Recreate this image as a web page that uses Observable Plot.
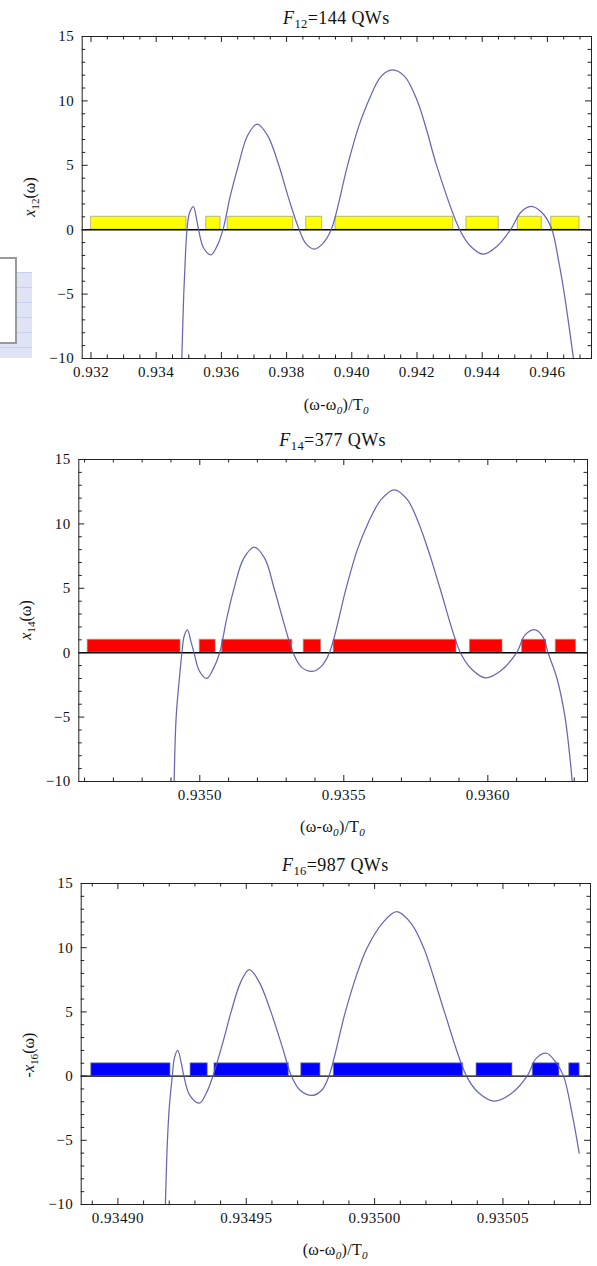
<!DOCTYPE html>
<html>
<head>
<meta charset="utf-8">
<script src="https://cdn.jsdelivr.net/npm/d3@7"></script>
<script src="https://cdn.jsdelivr.net/npm/@observablehq/plot@0.6"></script>
<style>
  html, body { margin: 0; padding: 0; background: #fff; }
  #root { position: relative; width: 597px; height: 1266px; overflow: hidden;
          font-family: "Liberation Serif", "Times New Roman", serif; color: #111; }
  .abs { position: absolute; }
  .title { font-size: 18px; letter-spacing: 0.4px; text-align: center; line-height: 20px; white-space: nowrap; }
  .xlab { font-size: 16px; letter-spacing: 0.3px; text-align: center; line-height: 18px; white-space: nowrap; }
  .ylab { font-size: 16px; text-align: center; line-height: 18px; white-space: nowrap;
          width: 200px; height: 18px; transform: rotate(-90deg); transform-origin: 50% 50%; }
  sub { font-size: 70%; vertical-align: -0.35em; line-height: 0; }
  svg { position: absolute; overflow: visible; }
  svg text { font-family: "Liberation Serif", "Times New Roman", serif !important; letter-spacing: 0.5px; }
</style>
</head>
<body>
<div id="root"></div>
<script>
// ---------------- data ----------------
const yDomain = [-10, 15];
const yMajor = [-10, -5, 0, 5, 10, 15];
const barBase = 0;
const barTop = 1;

const titleIndex = ["12", "14", "16"];
const titleCount = ["144", "377", "987"];
const yLabelSign = ["", "", "-"];
const barColors = ["#ffff00", "#ff0000", "#0000ff"];

// Panel F12 = 144 QWs
const f12XDomain = [0.93173, 0.947353];
const f12XMajor = [0.932, 0.934, 0.936, 0.938, 0.940, 0.942, 0.944, 0.946];
const f12XMinorStep = 0.0005;
const f12BarStart = [0.932000, 0.935534, 0.936196, 0.938601, 0.939500, 0.943518, 0.945092, 0.946117];
const f12BarEnd   = [0.934929, 0.935972, 0.938202, 0.939092, 0.943110, 0.944509, 0.945828, 0.946985];
const f12CurveX = [0.934786, 0.934845, 0.934900, 0.934945, 0.935020, 0.935140, 0.935240, 0.935300,
  0.935450, 0.935680, 0.935880, 0.936049, 0.936280, 0.936521, 0.936800, 0.937100, 0.937420, 0.937761,
  0.938080, 0.938387, 0.938600, 0.938846, 0.939100, 0.939366, 0.939870, 0.940210, 0.940512, 0.940900,
  0.941250, 0.941620, 0.942010, 0.942300, 0.942600, 0.943310, 0.943650, 0.944040, 0.944450, 0.944870,
  0.945200, 0.945540, 0.945880, 0.946140, 0.946350, 0.946520, 0.946800];
const f12CurveY = [-10, -5, -1.8, 0, 1.3, 1.8, 0.8, 0,
  -1.4, -1.95, -1.2, 0, 2.7, 5, 7.3, 8.2, 7.3, 5,
  2.3, 0, -1.1, -1.5, -1.1, 0, 5, 8, 10, 11.9,
  12.4, 11.9, 10, 7.7, 5, 0, -1.3, -1.9, -1.3, 0,
  1.4, 1.8, 1.2, 0, -2.5, -5, -10];

// Panel F14 = 377 QWs
const f14XDomain = [0.934580, 0.936346];
const f14XMajor = [0.9350, 0.9355, 0.9360];
const f14XMinorStep = 0.0001;
const f14BarStart = [0.934611, 0.935000, 0.935078, 0.935361, 0.935465, 0.935938, 0.936119, 0.936236];
const f14BarEnd   = [0.934933, 0.935055, 0.935321, 0.935421, 0.935891, 0.936051, 0.936203, 0.936306];
const f14CurveX = [0.934911, 0.934918, 0.934930, 0.934938, 0.934946, 0.934957, 0.934970, 0.934980,
  0.934998, 0.935024, 0.935048, 0.935069, 0.935094, 0.935119, 0.935152, 0.935189, 0.935226, 0.935258,
  0.935292, 0.935324, 0.935352, 0.935391, 0.935420, 0.935450, 0.935508, 0.935547, 0.935583, 0.935630,
  0.935675, 0.935720, 0.935761, 0.935797, 0.935834, 0.935905, 0.935945, 0.935992, 0.936045, 0.936100,
  0.936130, 0.936165, 0.936192, 0.936209, 0.936240, 0.936268, 0.936293];
const f14CurveY = [-10, -5, -1.8, 0, 1.3, 1.77, 0.8, 0,
  -1.4, -2.0, -1.2, 0, 2.7, 5, 7.3, 8.2, 7.3, 5,
  2.3, 0, -1.1, -1.45, -1.1, 0, 5, 8, 10, 11.9,
  12.65, 11.9, 10, 7.7, 5, 0, -1.3, -1.95, -1.4, 0,
  1.4, 1.78, 1.2, 0, -2.0, -5, -10];

// Panel F16 = 987 QWs
const f16XDomain = [0.9348857, 0.9350841];
const f16XMajor = [0.93490, 0.93495, 0.93500, 0.93505];
const f16XMinorStep = 0.00001;
const f16BarStart = [0.9348896, 0.9349283, 0.9349376, 0.9349714, 0.9349841, 0.9350397, 0.9350616, 0.9350758];
const f16BarEnd   = [0.9349205, 0.9349350, 0.9349666, 0.9349789, 0.9350345, 0.9350537, 0.9350720, 0.9350799];
const f16CurveX = [0.9349185, 0.9349193, 0.9349201, 0.9349212, 0.9349220, 0.9349233, 0.9349247, 0.9349257,
  0.9349280, 0.9349318, 0.9349345, 0.9349370, 0.9349410, 0.9349441, 0.9349478, 0.9349512, 0.9349551,
  0.9349596, 0.9349640, 0.9349676, 0.9349710, 0.9349757, 0.9349794, 0.9349822, 0.9349886, 0.9349932,
  0.9349971, 0.9350030, 0.9350086, 0.9350142, 0.9350191, 0.9350230, 0.9350272, 0.9350358, 0.9350405,
  0.9350464, 0.9350530, 0.9350594, 0.9350630, 0.9350670, 0.9350705, 0.9350736, 0.9350770, 0.9350797];
const f16CurveY = [-10, -5, -2.2, 0, 1.4, 2.0, 1.0, 0,
  -1.5, -2.1, -1.3, 0, 2.7, 5, 7.3, 8.3, 7.3,
  5, 2.3, 0, -1.1, -1.5, -1.1, 0, 5, 8,
  10, 11.9, 12.8, 11.9, 10, 7.7, 5, 0, -1.3,
  -1.95, -1.4, 0, 1.4, 1.78, 1.1, 0, -3, -6];

// ---------------- layout ----------------
const panels = [
  { k: 0, xDomain: f12XDomain, xMajor: f12XMajor, minorStep: f12XMinorStep, fmt: d3.format(".3f"),
    barStart: f12BarStart, barEnd: f12BarEnd, cx: f12CurveX, cy: f12CurveY,
    left: 81.7, right: 591, top: 36, bottom: 358, titleY: 18, xlabY: 405, ylabX: 30, ylabY: 197 },
  { k: 1, xDomain: f14XDomain, xMajor: f14XMajor, minorStep: f14XMinorStep, fmt: d3.format(".4f"),
    barStart: f14BarStart, barEnd: f14BarEnd, cx: f14CurveX, cy: f14CurveY,
    left: 78.3, right: 587, top: 459, bottom: 781, titleY: 440, xlabY: 827, ylabX: 26, ylabY: 620 },
  { k: 2, xDomain: f16XDomain, xMajor: f16XMajor, minorStep: f16XMinorStep, fmt: d3.format(".5f"),
    barStart: f16BarStart, barEnd: f16BarEnd, cx: f16CurveX, cy: f16CurveY,
    left: 80.7, right: 590, top: 883, bottom: 1204, titleY: 865, xlabY: 1250, ylabX: 29, ylabY: 1055 }
];

const root = document.getElementById("root");

// decorative fragment of a neighbouring figure at the left edge
const frag = document.createElement("div");
frag.className = "abs";
frag.style.cssText = "left:0;top:272px;width:32px;height:86px;background:#dfe3f6;" +
  "background-image:linear-gradient(#c9cfee 1px, transparent 1px);background-size:100% 15px;";
root.appendChild(frag);
const box = document.createElement("div");
box.className = "abs";
box.style.cssText = "left:-4px;top:257px;width:17px;height:83px;border:2px solid #9a9a9a;background:#fff;";
root.appendChild(box);

function inRange(v, dom) { return v >= dom[0] - 1e-12 && v <= dom[1] + 1e-12; }

for (const p of panels) {
  const bars = p.barStart.map((s, i) => ({ x1: s, x2: p.barEnd[i], y1: barBase, y2: barTop }));
  const curve = p.cx.map((x, i) => ({ x, y: p.cy[i] }));
  const n0 = Math.ceil(p.xDomain[0] / p.minorStep), n1 = Math.floor(p.xDomain[1] / p.minorStep);
  const xMinor = d3.range(n0, n1 + 1).map(i => i * p.minorStep)
    .filter(v => inRange(v, p.xDomain) && !p.xMajor.some(m => Math.abs(m - v) < p.minorStep / 10));
  const yMinor = d3.range(-10, 16).filter(v => !yMajor.includes(v));
  const innerH = p.bottom - p.top;
  const innerW = p.right - p.left;
  const mt = 12, mb = 34;
  const majorLen = 6, minorLen = 3.5;
  const tk = "#222";

  const svg = Plot.plot({
    width: 597,
    height: innerH + mt + mb,
    marginLeft: p.left,
    marginRight: 597 - p.right,
    marginTop: mt,
    marginBottom: mb,
    x: { domain: p.xDomain },
    y: { domain: yDomain },
    style: { fontFamily: "'Liberation Serif', 'Times New Roman', serif", fontSize: "15px",
             background: "transparent", color: "#111" },
    marks: [
      Plot.rect(bars, { x1: "x1", x2: "x2", y1: "y1", y2: "y2", fill: barColors[p.k],
        stroke: "#8f8f80", strokeOpacity: 0.55, strokeWidth: 1.2 }),
      Plot.ruleY([0], { stroke: "#000", strokeWidth: 1.4 }),
      Plot.line(curve, { x: "x", y: "y", curve: "catmull-rom", stroke: "#5656a8",
        strokeWidth: 1.25, strokeOpacity: 0.9, clip: true }),
      // inward frame ticks
      Plot.tickX(p.xMajor, { x: d => d, insetTop: innerH - majorLen, stroke: tk }),
      Plot.tickX(p.xMajor, { x: d => d, insetBottom: innerH - majorLen, stroke: tk }),
      Plot.tickX(xMinor, { x: d => d, insetTop: innerH - minorLen, stroke: tk }),
      Plot.tickX(xMinor, { x: d => d, insetBottom: innerH - minorLen, stroke: tk }),
      Plot.tickY(yMajor, { y: d => d, insetRight: innerW - majorLen, stroke: tk }),
      Plot.tickY(yMajor, { y: d => d, insetLeft: innerW - majorLen, stroke: tk }),
      Plot.tickY(yMinor, { y: d => d, insetRight: innerW - minorLen, stroke: tk }),
      Plot.tickY(yMinor, { y: d => d, insetLeft: innerW - minorLen, stroke: tk }),
      Plot.axisX({ ticks: p.xMajor, tickSize: 0, tickPadding: 8, tickFormat: p.fmt, label: null, fontSize: 15 }),
      Plot.axisY({ ticks: yMajor, tickSize: 0, tickPadding: 8, label: null, fontSize: 15 }),
      Plot.frame({ stroke: "#222", strokeWidth: 1 })
    ]
  });
  svg.style.left = "0px";
  svg.style.top = (p.top - mt) + "px";
  root.appendChild(svg);

  const t = document.createElement("div");
  t.className = "abs title";
  t.style.left = p.left + "px";
  t.style.width = innerW + "px";
  t.style.top = (p.titleY - 10) + "px";
  t.innerHTML = `<i>F</i><sub>${titleIndex[p.k]}</sub>=${titleCount[p.k]} QWs`;
  root.appendChild(t);

  const xl = document.createElement("div");
  xl.className = "abs xlab";
  xl.style.left = p.left + "px";
  xl.style.width = innerW + "px";
  xl.style.top = (p.xlabY - 9) + "px";
  xl.innerHTML = `(ω-ω<sub><i>0</i></sub>)/T<sub><i>0</i></sub>`;
  root.appendChild(xl);

  const yl = document.createElement("div");
  yl.className = "abs ylab";
  yl.style.left = (p.ylabX - 100) + "px";
  yl.style.top = (p.ylabY - 9) + "px";
  yl.innerHTML = `${yLabelSign[p.k]}<i>x</i><sub>${titleIndex[p.k]}</sub>(ω)`;
  root.appendChild(yl);
}
</script>
</body>
</html>
